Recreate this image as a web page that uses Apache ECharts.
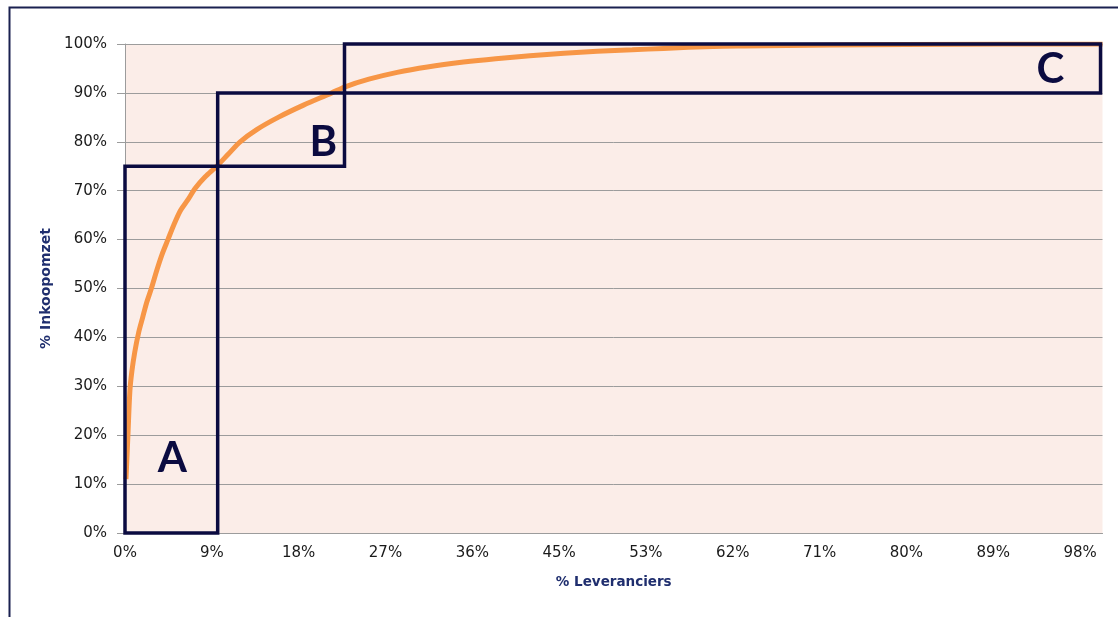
<!DOCTYPE html>
<html>
<head>
<meta charset="utf-8">
<script src="https://cdn.jsdelivr.net/npm/echarts@6/dist/echarts.min.js"></script>
<style>
html,body{margin:0;padding:0;background:#fff;}
#chart{width:1118px;height:617px;}
</style>
</head>
<body>
<div id="chart"></div>
<script>
// ---- data ----
const xTickLabels = ['0%','9%','18%','27%','36%','45%','53%','62%','71%','80%','89%','98%'];
const yTickLabels = ['0%','10%','20%','30%','40%','50%','60%','70%','80%','90%','100%'];
// cumulative % of suppliers (x) vs cumulative % of purchase spend (y)
const supplierPct = [0.1, 0.3, 0.5, 0.7, 1.0, 1.4, 1.8, 2.2, 2.7, 3.3, 3.8, 4.4, 5.0, 5.7, 6.4, 7.2, 8.2, 9.4, 10.6, 11.8, 13.5, 15.7, 18.3, 21.2, 22.5, 25.0, 27.9, 31.0, 34.7, 38.0, 41.5, 45.0, 48.4, 52.0, 55.2, 60.3, 63.4, 72.3, 80.0, 90.0, 100.2];
const spendPct    = [11, 20, 29, 33, 37, 41, 44, 47, 50, 54, 57, 60, 63, 66, 68, 70.5, 72.8, 75, 77.5, 80, 82.5, 85, 87.5, 90, 91.2, 92.8, 94.2, 95.3, 96.3, 97.0, 97.6, 98.1, 98.5, 98.8, 99.1, 99.5, 99.6, 99.8, 99.9, 100, 100];
// ABC classification boxes
const boxNames        = ['A', 'B', 'C'];
const boxSupplierFrom = [0, 9.5, 22.5];
const boxSupplierTo   = [9.5, 22.5, 100];
const boxSpendFrom    = [0, 75, 90];
const boxSpendTo      = [75, 90, 100];

// ---- chart ----
const NAVY = '#0b0b40';
const TITLE = '#1f2e6e';
const X_STEP = 8.9;

const labelPlacement = {
  A: { position: 'insideBottom', offset: [1, -50] },
  B: { position: 'insideBottomRight', offset: [-4, 0] },
  C: { position: 'insideRight', offset: [-33, 1] }
};

const areaData = boxNames.map((n, i) => [
  { name: n, xAxis: boxSupplierFrom[i], yAxis: boxSpendFrom[i],
    label: labelPlacement[n] },
  { xAxis: boxSupplierTo[i], yAxis: boxSpendTo[i] }
]);

const chart = echarts.init(document.getElementById('chart'), null, { renderer: 'canvas' });
chart.setOption({
  animation: false,
  backgroundColor: '#ffffff',
  graphic: [{
    type: 'rect', z: -10, silent: true,
    shape: { x: 9.5, y: 7.5, width: 1400, height: 900 },
    style: { fill: 'none', stroke: '#1a2150', lineWidth: 2 }
  }],
  grid: {
    left: 125, right: 15.5, top: 44, bottom: 84,
    show: true, backgroundColor: '#fbede8', borderWidth: 0
  },
  xAxis: {
    type: 'value', min: 0, max: 100.2, interval: X_STEP,
    name: '% Leveranciers', nameLocation: 'middle', nameGap: 42,
    nameTextStyle: { fontFamily: 'DejaVu Sans', fontWeight: 'bold', fontSize: 13.5, color: TITLE },
    axisLine: { show: true, lineStyle: { color: '#9c9c9c', width: 1 } },
    axisTick: { show: false },
    splitLine: { show: false },
    axisLabel: {
      margin: 13, showMaxLabel: false,
      fontFamily: 'DejaVu Sans', fontSize: 15, color: '#1a1a1a',
      formatter: v => {
        const i = Math.round(v / X_STEP);
        return (Math.abs(i * X_STEP - v) < 1e-6 && i < xTickLabels.length) ? xTickLabels[i] : '';
      }
    }
  },
  yAxis: {
    type: 'value', min: 0, max: 100, interval: 10,
    name: '% Inkoopomzet', nameLocation: 'middle', nameGap: 67, nameRotate: 90,
    nameTextStyle: { fontFamily: 'DejaVu Sans', fontWeight: 'bold', fontSize: 14, color: TITLE },
    axisLine: { show: true, lineStyle: { color: '#9c9c9c', width: 1 } },
    axisTick: { show: true, length: 8, lineStyle: { color: '#9c9c9c' } },
    splitLine: { show: true, lineStyle: { color: '#9c9c9c', width: 1 } },
    axisLabel: {
      margin: 18, fontFamily: 'DejaVu Sans', fontSize: 15, color: '#1a1a1a',
      formatter: v => yTickLabels[Math.round(v / 10)]
    }
  },
  series: [{
    type: 'line',
    data: supplierPct.map((x, i) => [x, spendPct[i]]),
    showSymbol: false,
    smooth: 0.3,
    z: 3,
    lineStyle: { color: '#f79646', width: 5 },
    markArea: {
      silent: true,
      z: 5,
      itemStyle: { color: 'rgba(0,0,0,0)', borderColor: NAVY, borderWidth: 3.5 },
      label: {
        show: true, formatter: p => p.name,
        fontFamily: 'Lato', fontWeight: 'bold', fontSize: 42, color: NAVY
      },
      data: areaData
    }
  }]
});
</script>
</body>
</html>
